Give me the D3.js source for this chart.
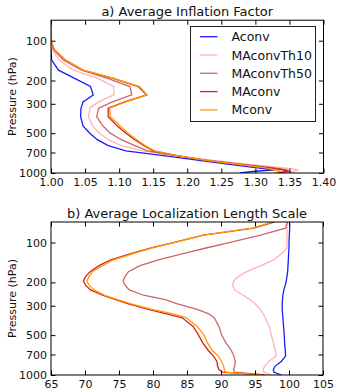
<!DOCTYPE html>
<html><head><meta charset="utf-8">
<script src="https://cdn.jsdelivr.net/npm/d3@7"></script>
<style>body{margin:0;background:#fff}svg{display:block}text{font-family:"DejaVu Sans",sans-serif}</style>
</head><body><svg id="c" width="337" height="390"></svg>
<script>
// ---------- data ----------
const seriesNames = ["Aconv","MAconvTh10","MAconvTh50","MAconv","Mconv"];
const seriesColors = ["#1a1aff","#ffb3b3","#cc6666","#d42020","#ff9a00"];

// panel a: average inflation factor
const levelsA = [70,85,100,117,140,167,192,222,257,290,324,375,440,500,560,620,680,740,800,860,910,945,970,1000];
const infAconv   = [1.000,1.000,1.000,1.000,1.001,1.011,1.034,1.058,1.062,1.047,1.044,1.0435,1.047,1.057,1.068,1.084,1.110,1.165,1.215,1.262,1.300,1.329,1.300,1.277];
const infTh10    = [1.000,1.000,1.000,1.002,1.012,1.033,1.068,1.092,1.0925,1.070,1.057,1.055,1.061,1.071,1.084,1.103,1.135,1.180,1.235,1.290,1.338,1.363,1.357,1.348];
const infTh50    = [1.000,1.000,1.000,1.004,1.018,1.045,1.082,1.116,1.1185,1.090,1.070,1.067,1.076,1.087,1.103,1.123,1.142,1.182,1.228,1.280,1.325,1.345,1.350,1.337];
const infMAconv  = [1.000,1.000,1.000,1.005,1.021,1.047,1.090,1.128,1.1405,1.108,1.084,1.084,1.097,1.110,1.123,1.136,1.150,1.185,1.225,1.2775,1.318,1.340,1.348,1.333];
const infMconv   = [1.000,1.000,1.000,1.005,1.021,1.047,1.091,1.130,1.141,1.110,1.086,1.087,1.101,1.113,1.126,1.138,1.152,1.186,1.226,1.275,1.312,1.328,1.336,1.328];

// panel b: average localization length scale
const levelsB = [70,78,88,100,110,120,135,150,166,180,195,210,228,250,270,290,320,345,370,430,500,570,650,720,790,860,910,950,1000];
const locAconv  = [100.1,100.1,100.05,100.0,100.0,99.95,99.9,99.85,99.8,99.7,99.6,99.45,99.25,99.1,99.05,99.0,99.0,99.05,99.1,99.2,99.3,99.35,99.45,99.5,98.85,97.95,97.7,97.75,98.9];
const locTh10   = [99.7,99.7,99.7,99.7,99.7,99.0,97.8,95.8,93.8,92.6,91.9,91.7,92.0,93.3,94.3,95.0,95.8,96.2,96.5,97.1,97.4,97.7,98.0,98.1,97.0,96.4,96.2,96.3,97.4];
const locTh50   = [99.75,99.5,95.8,91.2,87.8,84.7,80.8,78.0,76.4,75.9,75.6,75.9,76.5,78.6,81.8,83.6,86.5,88.2,89.0,89.7,90.1,90.7,91.5,91.9,92.1,92.0,91.85,92.0,96.5];
const locMAconv = [97.9,94.8,87.4,83.0,79.6,77.0,73.8,72.0,70.75,70.1,69.76,70.1,70.8,72.6,74.5,76.4,79.3,82.0,84.3,85.9,86.7,87.3,88.1,88.9,89.4,89.5,89.7,90.2,96.3];
const locMconv  = [97.6,94.6,87.4,83.1,79.8,77.3,74.2,72.5,71.1,70.6,70.26,70.6,71.3,72.9,74.8,76.8,79.8,83.0,84.9,86.5,87.5,88.0,88.7,89.6,90.1,90.4,90.5,90.7,96.0];

const pTicks = [100,200,300,500,700,1000];
const xTicksA = [1.00,1.05,1.10,1.15,1.20,1.25,1.30,1.35,1.40];
const xTicksB = [65,70,75,80,85,90,95,100,105];

// ---------- drawing ----------
const svg = d3.select("#c");
const FONT_TICK = 11, FONT_TITLE = 13, FONT_LEG = 12.5;

function panel(cfg){
  const {x0,x1,y0,y1,xdom,xticks,xfmt,levels,series,title,id,legend} = cfg;
  const x = d3.scaleLinear().domain(xdom).range([x0,x1]);
  const y = d3.scaleLog().domain([70,1000]).range([y0,y1]);
  const g = svg.append("g");
  g.append("clipPath").attr("id",id).append("rect")
    .attr("x",x0).attr("y",y0).attr("width",x1-x0).attr("height",y1-y0);
  const line = d3.line().x(d=>x(d[0])).y(d=>y(d[1]));
  const lg = g.append("g").attr("clip-path",`url(#${id})`);
  series.forEach((vals,i)=>{
    lg.append("path").datum(vals.map((v,j)=>[v,levels[j]]))
      .attr("d",line).attr("fill","none").attr("stroke",seriesColors[i])
      .attr("stroke-width",1.3).attr("stroke-linejoin","miter");
  });
  const ax = (a,tr)=>{
    const s = g.append("g").attr("transform",tr).call(a);
    s.select(".domain").remove();
    s.selectAll("line").attr("stroke","#000");
    s.selectAll("text").attr("font-size",FONT_TICK).attr("font-family","DejaVu Sans").attr("fill","#111");
    return s;
  };
  ax(d3.axisBottom(x).tickValues(xticks).tickFormat(xfmt).tickSizeInner(-4.5).tickSizeOuter(0).tickPadding(5),`translate(0,${y1})`);
  ax(d3.axisTop(x).tickValues(xticks).tickFormat("").tickSizeInner(-4.5).tickSizeOuter(0),`translate(0,${y0})`);
  ax(d3.axisLeft(y).tickValues(pTicks).tickFormat(d3.format("d")).tickSizeInner(-4.5).tickSizeOuter(0).tickPadding(4),`translate(${x0},0)`);
  ax(d3.axisRight(y).tickValues(pTicks).tickFormat("").tickSizeInner(-4.5).tickSizeOuter(0),`translate(${x1},0)`);
  g.append("rect").attr("x",x0).attr("y",y0).attr("width",x1-x0).attr("height",y1-y0)
    .attr("fill","none").attr("stroke","#000").attr("stroke-width",1);
  g.append("text").attr("x",(x0+x1)/2).attr("y",y0-4).attr("text-anchor","middle")
    .attr("font-size",FONT_TITLE).attr("fill","#111").text(title);
  g.append("text").attr("transform",`translate(16,${(y0+y1)/2}) rotate(-90)`)
    .attr("text-anchor","middle").attr("font-size",FONT_TICK).attr("fill","#111").text("Pressure (hPa)");
  if(legend){
    const L = g.append("g");
    L.append("rect").attr("x",190.5).attr("y",26.5).attr("width",125).attr("height",95)
      .attr("fill","#fff").attr("stroke","#222").attr("stroke-width",1);
    seriesNames.forEach((n,i)=>{
      const yy = 36.7 + i*18.3;
      L.append("line").attr("x1",200).attr("x2",217.5).attr("y1",yy).attr("y2",yy)
        .attr("stroke",seriesColors[i]).attr("stroke-width",1.3);
      L.append("text").attr("x",231.5).attr("y",yy).attr("dy","0.36em")
        .attr("font-size",FONT_LEG).attr("fill","#111").text(n);
    });
  }
}

panel({x0:51,x1:323.5,y0:20.2,y1:173,xdom:[1.0,1.4],xticks:xTicksA,xfmt:d3.format(".2f"),
  levels:levelsA,series:[infAconv,infTh10,infTh50,infMAconv,infMconv],
  title:"a) Average Inflation Factor",id:"clipA",legend:true});
panel({x0:51,x1:323,y0:222,y1:375,xdom:[65,105],xticks:xTicksB,xfmt:d3.format("d"),
  levels:levelsB,series:[locAconv,locTh10,locTh50,locMAconv,locMconv],
  title:"b) Average Localization Length Scale",id:"clipB",legend:false});
</script></body></html>
